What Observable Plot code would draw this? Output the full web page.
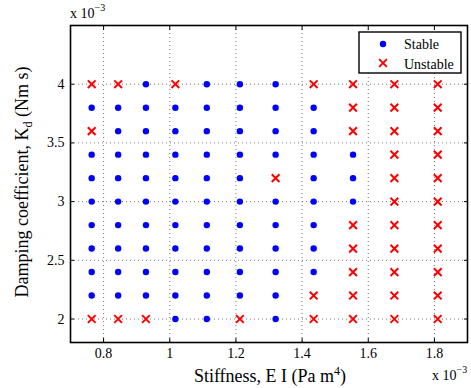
<!DOCTYPE html>
<html><head><meta charset="utf-8">
<script src="https://cdn.jsdelivr.net/npm/d3@7"></script>
<script src="https://cdn.jsdelivr.net/npm/@observablehq/plot@0.6"></script>
<style>
body{margin:0;background:#fff}
#chart{width:471px;height:388px}
#chart svg text{font-family:"Liberation Serif","Times New Roman",serif !important}
</style>
</head><body><div id="chart"></div>
<script>
// Stiffness E I (x 10^-3 Pa m^4), one value per column
const stiffness = [0.764, 0.844, 0.928, 1.017, 1.112, 1.212, 1.320, 1.435, 1.554, 1.679, 1.810];
// Damping coefficient K_d (x 10^-3 Nm s), one value per row
const damping = [4.0, 3.8, 3.6, 3.4, 3.2, 3.0, 2.8, 2.6, 2.4, 2.2, 2.0];
// S = stable, U = unstable; one string per damping row, columns follow stiffness
const status = [
  "UUSUSSSUUUU",
  "SSSSSSSSUUU",
  "USSSSSSSUUU",
  "SSSSSSSSSUU",
  "SSSSSSUSSUU",
  "SSSSSSSSSUU",
  "SSSSSSSSUUU",
  "SSSSSSSSUUU",
  "SSSSSSSSUUU",
  "SSSSSSSUUUU",
  "UUUSSUSUUUU"
];
const xTicks = [0.8, 1.0, 1.2, 1.4, 1.6, 1.8];
const yTicks = [2, 2.5, 3, 3.5, 4];
const seriesNames = ["Stable", "Unstable"];

const table = [];
damping.forEach((k, i) => stiffness.forEach((e, j) => table.push({EI: e, Kd: k, s: status[i][j]})));
const stable = table.filter(d => d.s === "S");
const unstable = table.filter(d => d.s === "U");

const serif = '"Liberation Serif", "Times New Roman", serif';
const fmt = d => String(+d.toFixed(1));
const grid = {stroke: "#777", strokeOpacity: 1, strokeWidth: 1, strokeDasharray: "1,3"};

const plot = Plot.plot({
  width: 471, height: 388,
  marginLeft: 70, marginRight: 4, marginTop: 25, marginBottom: 46,
  style: {fontFamily: serif, fontSize: "14px", color: "#000", background: "#fff"},
  x: {domain: [0.7, 1.9]},
  y: {domain: [1.8, 4.5]},
  marks: [
    Plot.gridX(xTicks, grid),
    Plot.gridY(yTicks, grid),
    Plot.axisX(xTicks, {anchor: "bottom", tickSize: 0, tickPadding: 6, tickFormat: fmt, label: null}),
    Plot.axisY(yTicks, {anchor: "left", tickSize: 0, tickPadding: 6, tickFormat: fmt, label: null}),
    Plot.axisX(xTicks, {anchor: "bottom", tickSize: -4, tickFormat: () => "", label: null}),
    Plot.axisX(xTicks, {anchor: "top", tickSize: -4, tickFormat: () => "", label: null}),
    Plot.axisY(yTicks, {anchor: "left", tickSize: -4, tickFormat: () => "", label: null}),
    Plot.axisY(yTicks, {anchor: "right", tickSize: -4, tickFormat: () => "", label: null}),
    Plot.frame({stroke: "#000", strokeWidth: 1.6}),
    Plot.dot(stable, {x: "EI", y: "Kd", r: 3.2, fill: "#0000ff", stroke: "none"}),
    Plot.dot(unstable, {x: "EI", y: "Kd", r: 3.6, symbol: "times", stroke: "#ff0000", strokeWidth: 2})
  ]
});
document.getElementById("chart").append(plot);

const svg = d3.select(plot);
// axis labels
const xl = svg.append("text").attr("x", 270).attr("y", 382).attr("text-anchor", "middle")
  .attr("font-size", 18).attr("fill", "#000");
xl.append("tspan").text("Stiffness, E I (Pa m");
xl.append("tspan").attr("dy", -7).attr("font-size", 12).text("4");
xl.append("tspan").attr("dy", 7).text(")");

const yl = svg.append("text").attr("transform", "translate(28,182) rotate(-90)").attr("text-anchor", "middle")
  .attr("font-size", 18).attr("fill", "#000");
yl.append("tspan").text("Damping coefficient, K");
yl.append("tspan").attr("dy", 4).attr("font-size", 12).text("d");
yl.append("tspan").attr("dy", -4).text(" (Nm s)");

function exponent(x, y) {
  const t = svg.append("text").attr("x", x).attr("y", y).attr("text-anchor", "start")
    .attr("font-size", 14).attr("fill", "#000");
  t.append("tspan").text("x 10");
  t.append("tspan").attr("dy", -7).attr("font-size", 10).text("\u22123");
}
exponent(70, 18);
exponent(432, 380);

// legend
const lg = svg.append("g");
lg.append("rect").attr("x", 359).attr("y", 32).attr("width", 102).attr("height", 41)
  .attr("fill", "#fff").attr("stroke", "#000").attr("stroke-width", 1.4);
lg.append("circle").attr("cx", 383).attr("cy", 44).attr("r", 3.2).attr("fill", "#0000ff");
lg.append("path").attr("transform", "translate(383,63)")
  .attr("d", d3.symbol(d3.symbolTimes, Math.PI * 3.6 * 3.6)())
  .attr("stroke", "#ff0000").attr("stroke-width", 2).attr("fill", "none");
seriesNames.forEach((n, i) => lg.append("text").attr("x", 404).attr("y", 49 + i * 19.5)
  .attr("text-anchor", "start").attr("font-size", 14).attr("fill", "#000").text(n));
</script>
</body></html>
